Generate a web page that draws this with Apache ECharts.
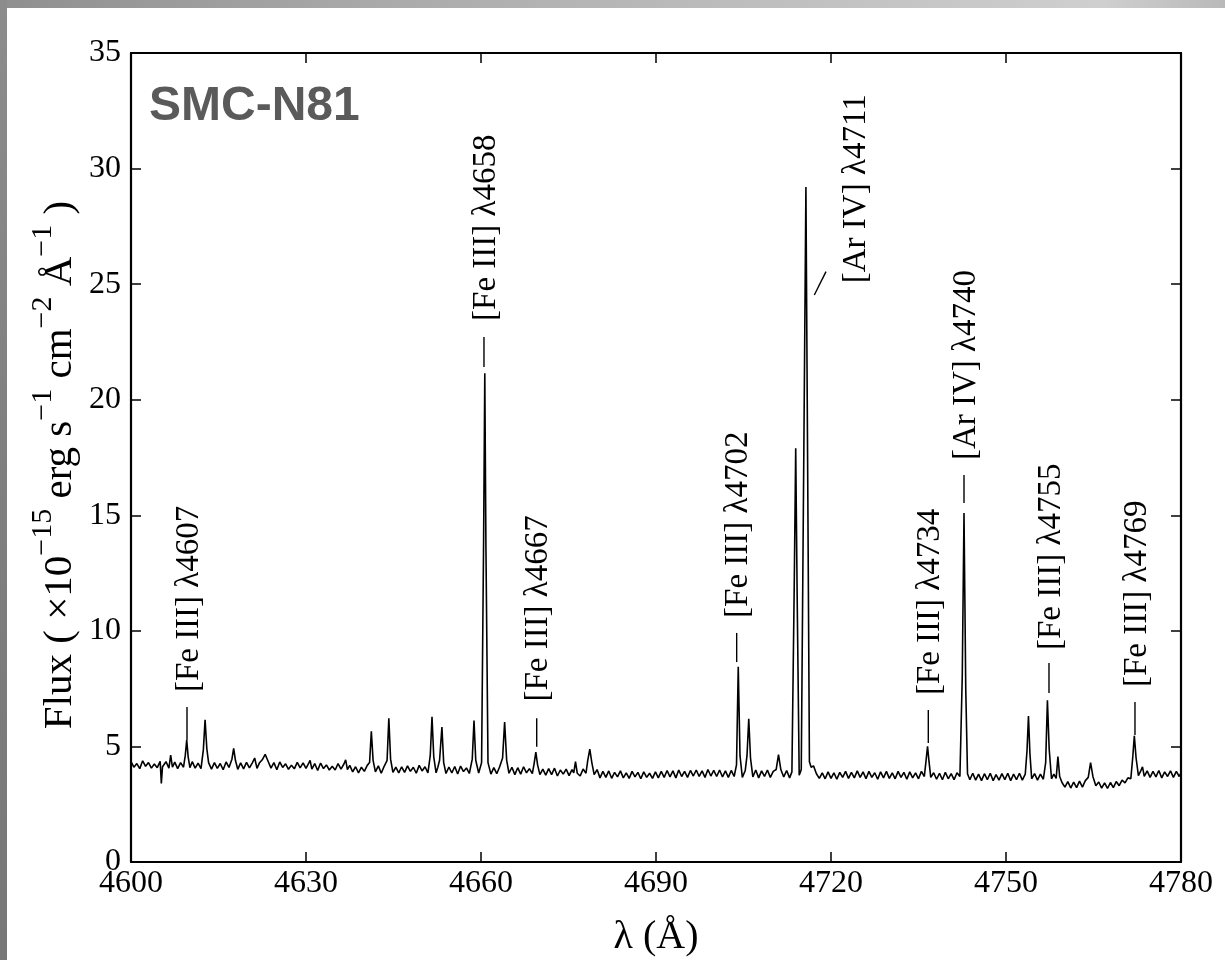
<!DOCTYPE html>
<html><head><meta charset="utf-8">
<script src="https://cdn.jsdelivr.net/npm/echarts@6/dist/echarts.min.js"></script>
<style>html,body{margin:0;padding:0;background:#fff}#c{width:1225px;height:960px}</style>
</head><body><div id="c"></div>
<script>
// ---------- data ----------
const xTicks = [4600, 4630, 4660, 4690, 4720, 4750, 4780];
const yTicks = [0, 5, 10, 15, 20, 25, 30, 35];
const objectName = 'SMC-N81';

// spectrum: [wavelength (Å), flux (1e-15 erg s-1 cm-2 Å-1)]
const spectrum = [
[4600.0,4.34],[4600.5,4.10],[4601.0,4.26],[4601.5,4.04],[4602.0,4.38],[4602.5,4.14],[4603.0,4.30],[4603.5,4.06],[4604.0,4.24],[4604.5,4.08],
[4605.0,4.36],[4605.2,3.40],[4605.4,4.12],[4606.0,4.34],[4606.5,4.06],[4606.8,4.62],[4607.1,4.10],[4607.5,4.32],[4608.0,4.04],[4608.5,4.30],
[4609.0,4.10],[4609.3,4.60],[4609.55,5.28],[4609.8,4.55],[4610.1,4.08],[4610.5,4.34],[4611.0,4.06],[4611.5,4.28],[4612.0,4.04],[4612.4,4.85],
[4612.7,6.15],[4613.0,4.90],[4613.3,4.30],
[4613.8,4.02],[4614.3,4.30],[4614.8,4.05],[4615.3,4.26],[4615.8,3.99],[4616.3,4.33],[4616.8,4.09],[4617.3,4.45],[4617.6,4.92],[4617.9,4.40],
[4618.3,4.01],[4618.8,4.29],[4619.3,4.03],[4619.8,4.31],[4620.3,4.07],[4620.8,4.29],[4621.2,4.50],[4621.6,4.05],[4622.0,4.28],[4622.5,4.42],
[4623.0,4.66],[4623.5,4.36],[4624.0,4.06],[4624.5,4.30],[4625.0,3.99],[4625.5,4.33],[4626.0,4.09],[4626.5,4.25],[4627.0,4.01],[4627.5,4.19],
[4628.0,4.03],[4628.5,4.31],[4629.0,4.07],[4629.5,4.29],[4630.0,4.05],
[4630.4,4.24],[4630.7,4.40],[4631.0,4.02],[4631.5,4.26],[4632.0,3.96],[4632.5,4.28],[4633.0,4.04],[4633.5,4.20],[4634.0,3.98],[4634.5,4.14],
[4635.0,3.98],[4635.5,4.26],[4636.0,4.02],[4636.5,4.24],[4636.8,4.42],[4637.1,4.00],[4637.5,4.18],[4638.0,3.90],[4638.5,4.12],[4639.0,3.86],
[4639.5,4.10],[4640.0,3.92],[4640.5,4.18],[4640.9,4.30],[4641.2,5.66],[4641.5,4.40],
[4641.9,3.90],[4642.4,4.16],[4642.9,3.84],[4643.4,4.14],[4643.9,4.40],[4644.2,6.22],[4644.5,4.45],[4644.9,3.88],[4645.4,4.10],[4645.9,3.86],
[4646.4,4.12],[4646.9,3.88],[4647.4,4.16],[4647.9,3.92],[4648.4,4.10],[4648.9,3.84],[4649.4,4.18],[4649.9,3.94],[4650.4,4.12],[4650.9,3.86],
[4651.3,4.60],[4651.6,6.28],[4651.9,4.55],[4652.3,3.86],[4652.6,4.10],[4652.9,4.40],[4653.3,5.84],[4653.6,4.30],
[4654.0,3.83],[4654.5,4.11],[4655.0,3.85],[4655.5,4.13],[4656.0,3.81],[4656.5,4.15],[4657.0,3.91],[4657.5,4.07],[4658.0,3.83],[4658.5,4.45],
[4658.8,6.12],[4659.1,4.40],[4659.6,3.85],[4660.1,4.30],[4660.45,14.0],[4660.65,21.15],[4660.85,13.5],[4661.2,4.30],
[4661.7,3.80],[4662.2,4.08],[4662.7,3.82],[4663.2,4.12],[4663.7,4.50],[4664.05,6.05],[4664.4,4.40],[4664.8,3.84],[4665.3,4.10],[4665.8,3.78],
[4666.3,4.08],[4666.8,3.80],[4667.3,4.12],[4667.8,3.86],[4668.3,4.04],[4668.8,3.82],[4669.1,4.25],[4669.4,4.75],[4669.7,4.20],[4670.1,3.78],
[4670.6,4.02],[4671.1,3.76],[4671.6,4.04],[4672.1,3.78],[4672.6,4.06],[4673.1,3.72],[4673.6,3.98],[4674.1,3.80],[4674.6,4.02],[4675.1,3.74],
[4675.6,4.00],[4675.9,3.86],[4676.2,4.34],[4676.5,3.84],[4677.0,3.72],[4677.5,4.02],[4678.0,3.84],[4678.3,4.40],[4678.65,4.88],[4679.0,4.30],
[4679.4,3.78],[4679.9,4.00],
[4680.4,3.64],[4680.9,3.92],[4681.4,3.66],[4681.9,3.94],[4682.4,3.62],[4682.9,3.88],[4683.4,3.68],[4683.9,3.94],[4684.4,3.64],[4684.9,3.86],
[4685.4,3.62],[4685.9,3.92],[4686.4,3.68],[4686.9,3.88],[4687.4,3.60],[4687.9,3.90],[4688.4,3.66],[4688.9,3.84],[4689.4,3.62],[4689.9,3.90],
[4690.4,3.64],[4690.9,3.92],[4691.4,3.66],[4691.9,3.96],[4692.4,3.68],[4692.9,3.94],[4693.4,3.64],[4693.9,3.98],[4694.4,3.70],[4694.9,3.92],
[4695.4,3.66],[4695.9,3.96],[4696.4,3.72],[4696.9,3.98],[4697.4,3.70],[4697.9,3.94],[4698.4,3.66],[4698.9,4.00],[4699.4,3.72],[4699.9,3.96],
[4700.4,3.70],[4700.9,3.98],[4701.4,3.68],[4701.9,3.94],[4702.4,3.66],[4702.9,3.96],[4703.4,3.70],[4703.8,4.20],[4704.1,8.45],[4704.4,4.60],
[4704.8,3.66],[4705.3,3.96],[4705.6,4.60],[4705.9,6.20],[4706.2,4.50],[4706.6,3.68],[4707.1,3.98],[4707.6,3.64],[4708.1,3.94],[4708.6,3.70],
[4709.1,3.98],[4709.6,3.66],[4710.1,3.92],[4710.6,4.00],[4711.0,4.65],[4711.4,4.00],[4711.9,3.68],[4712.4,3.96],[4712.9,3.64],[4713.3,3.90],
[4713.7,12.0],[4713.95,17.9],[4714.2,11.5],[4714.55,3.75],[4714.9,4.00],[4715.35,18.0],[4715.7,29.2],[4716.0,17.0],[4716.3,4.34],[4716.6,4.10],
[4717.0,4.16],[4717.5,3.82],
[4718.0,3.62],[4718.5,3.86],[4719.0,3.60],[4719.5,3.90],[4720.0,3.62],[4720.5,3.86],[4721.0,3.58],[4721.5,3.88],[4722.0,3.66],[4722.5,3.92],
[4723.0,3.62],[4723.5,3.88],[4724.0,3.64],[4724.5,3.94],[4725.0,3.66],[4725.5,3.90],[4726.0,3.60],[4726.5,3.92],[4727.0,3.66],[4727.5,3.86],
[4728.0,3.58],[4728.5,3.90],[4729.0,3.64],[4729.5,3.92],[4730.0,3.62],[4730.5,3.86],[4731.0,3.60],[4731.5,3.92],[4732.0,3.66],[4732.5,3.88],
[4733.0,3.58],[4733.5,3.90],[4734.0,3.64],[4734.5,3.86],[4735.0,3.60],[4735.5,3.92],[4736.0,3.70],[4736.3,4.40],[4736.55,5.00],[4736.8,4.35],
[4737.1,3.66],
[4737.6,3.86],[4738.1,3.58],[4738.6,3.84],[4739.1,3.56],[4739.6,3.88],[4740.1,3.60],[4740.6,3.82],[4741.1,3.56],[4741.6,3.86],[4742.1,3.70],
[4742.5,8.0],[4742.8,15.1],[4743.1,7.5],[4743.4,3.82],
[4743.8,3.56],[4744.3,3.84],[4744.8,3.54],[4745.3,3.80],[4745.8,3.52],[4746.3,3.82],[4746.8,3.56],[4747.3,3.84],[4747.8,3.52],[4748.3,3.78],
[4748.8,3.54],[4749.3,3.82],[4749.8,3.56],[4750.3,3.84],[4750.8,3.52],[4751.3,3.80],[4751.8,3.56],[4752.3,3.84],[4752.8,3.54],[4753.3,3.80],
[4753.6,4.80],[4753.85,6.32],[4754.1,4.70],[4754.4,3.60],[4754.9,3.82],[4755.4,3.54],[4755.9,3.80],[4756.4,3.58],[4756.8,4.30],[4757.1,7.00],
[4757.4,4.90],[4757.8,3.60],[4758.2,3.80],[4758.6,3.62],[4758.9,4.56],[4759.2,3.70],[4759.6,3.44],
[4760.1,3.24],[4760.6,3.48],[4761.1,3.20],[4761.6,3.46],[4762.1,3.22],[4762.6,3.50],[4763.1,3.24],[4763.6,3.52],[4764.1,3.66],[4764.5,4.30],
[4764.9,3.70],[4765.4,3.30],[4765.9,3.46],[4766.4,3.20],[4766.9,3.42],[4767.4,3.18],[4767.9,3.44],[4768.4,3.22],[4768.9,3.48],[4769.4,3.30],
[4769.9,3.54],[4770.4,3.42],[4770.9,3.64],[4771.4,3.60],[4771.75,4.60],[4772.0,5.46],[4772.3,4.50],[4772.7,3.74],[4773.1,3.94],[4773.4,4.12],
[4773.7,3.70],
[4774.2,3.94],[4774.7,3.66],[4775.2,3.92],[4775.7,3.68],[4776.2,3.96],[4776.7,3.64],[4777.2,3.90],[4777.7,3.70],[4778.2,3.94],[4778.7,3.66],
[4779.2,3.92],[4779.7,3.70],[4780.0,3.86]
];

// line identifications
const annoLabels = ['[Fe III] λ4607','[Fe III] λ4658','[Fe III] λ4667','[Fe III] λ4702','[Ar IV] λ4711','[Fe III] λ4734','[Ar IV] λ4740','[Fe III] λ4755','[Fe III] λ4769'];
const annoLineX0 = [4609.6, 4660.51, 4669.55, 4703.83, 4717.14, 4736.68, 4742.8, 4757.37, 4772.11];
const annoLineY0 = [5.28, 21.42, 4.99, 8.65, 24.53, 5.15, 15.53, 7.31, 5.49];
const annoLineX1 = [4609.6, 4660.51, 4669.55, 4703.83, 4719.14, 4736.68, 4742.8, 4757.37, 4772.11];
const annoLineY1 = [6.71, 22.71, 6.22, 9.91, 25.54, 6.58, 16.74, 8.61, 6.92];
const annoTextX  = [4609.6, 4660.51, 4669.55, 4703.83, 4723.94, 4736.68, 4742.8, 4757.37, 4772.11];
const annoTextY  = [7.35, 23.41, 6.94, 10.56, 25.04, 7.22, 17.39, 9.17, 7.57];

// ---------- chart ----------
const SERIF = '"Liberation Serif", "DejaVu Serif", serif';
const chart = echarts.init(document.getElementById('c'), null, {renderer: 'canvas'});

const axisLineStyle = {show: true, onZero: false, lineStyle: {color: '#000', width: 2.2}};
const tickStyle = {color: '#000', width: 1.5};
const plain = v => String(v);

chart.setOption({
  animation: false,
  backgroundColor: '#ffffff',
  grid: {left: 131, right: 44, top: 53, bottom: 98, containLabel: false, outerBoundsMode: 'none'},
  xAxis: [
    {type: 'value', min: 4600, max: 4780, position: 'bottom',
     axisLine: axisLineStyle,
     axisTick: {show: true, inside: true, length: 10, lineStyle: tickStyle, customValues: xTicks},
     axisLabel: {show: true, customValues: xTicks, formatter: plain, fontFamily: SERIF, fontSize: 32, color: '#000', margin: 6},
     splitLine: {show: false},
     name: 'λ (Å)', nameLocation: 'middle', nameGap: 55,
     nameTextStyle: {fontFamily: SERIF, fontSize: 40, color: '#000'}},
    {type: 'value', min: 4600, max: 4780, position: 'top',
     axisLine: axisLineStyle,
     axisTick: {show: true, inside: true, length: 10, lineStyle: tickStyle, customValues: xTicks},
     axisLabel: {show: false, customValues: xTicks},
     splitLine: {show: false}}
  ],
  yAxis: [
    {type: 'value', min: 0, max: 35, interval: 5, position: 'left',
     axisLine: axisLineStyle,
     axisTick: {show: true, inside: true, length: 10, lineStyle: tickStyle, customValues: yTicks},
     axisLabel: {show: true, customValues: yTicks, formatter: plain, fontFamily: SERIF, fontSize: 32, color: '#000', margin: 10},
     splitLine: {show: false}},
    {type: 'value', min: 0, max: 35, interval: 5, position: 'right',
     axisLine: axisLineStyle,
     axisTick: {show: true, inside: true, length: 10, lineStyle: tickStyle, customValues: yTicks},
     axisLabel: {show: false},
     splitLine: {show: false}}
  ],
  series: [{
    type: 'line', xAxisIndex: 0, yAxisIndex: 0, data: spectrum,
    showSymbol: false, symbol: 'none', clip: true,
    lineStyle: {color: '#000', width: 1.6},
    emphasis: {disabled: true}
  }]
});

function px(x, y) { return chart.convertToPixel({gridIndex: 0}, [x, y]); }

const g = [];
// textured border strips of the surrounding picture
g.push({type: 'rect', shape: {x: 0, y: 0, width: 1225, height: 8}, silent: true,
  style: {fill: new echarts.graphic.LinearGradient(0, 0, 1, 0, [
    {offset: 0, color: '#8f8f8f'}, {offset: 0.3, color: '#a9a9a9'}, {offset: 0.6, color: '#bdbdbd'},
    {offset: 0.9, color: '#cfcfcf'}, {offset: 1, color: '#b9b9b9'}])}});
g.push({type: 'rect', shape: {x: 0, y: 0, width: 7, height: 960}, silent: true,
  style: {fill: new echarts.graphic.LinearGradient(0, 0, 0, 1, [
    {offset: 0, color: '#8c8c8c'}, {offset: 0.5, color: '#7f7f7f'}, {offset: 1, color: '#777777'}])}});

// object name
g.push({type: 'text', x: 149, y: 107, silent: true,
  style: {text: objectName, font: 'bold 48px "Liberation Sans", Arial, sans-serif', fill: '#5a5a5a',
          align: 'left', verticalAlign: 'middle'}});

// y axis title (rotated, with superscripts)
g.push({type: 'text', x: 60, y: 465, rotation: Math.PI / 2, silent: true,
  style: {
    text: '{n|Flux ( ×10}{s|−15}{n| erg s}{s|−1}{n| cm}{s|−2}{n| Å}{s|−1}{n| )}',
    align: 'center', verticalAlign: 'middle',
    rich: {
      n: {fontFamily: SERIF, fontSize: 41, fill: '#000'},
      s: {fontFamily: SERIF, fontSize: 30, fill: '#000', padding: [0, 0, 34, 0]}
    }
  }});

// line identifications
for (let i = 0; i < annoLabels.length; i++) {
  const p0 = px(annoLineX0[i], annoLineY0[i]);
  const p1 = px(annoLineX1[i], annoLineY1[i]);
  const pt = px(annoTextX[i], annoTextY[i]);
  g.push({type: 'line', silent: true,
    shape: {x1: p0[0], y1: p0[1], x2: p1[0], y2: p1[1]},
    style: {stroke: '#000', lineWidth: 1.4}});
  g.push({type: 'text', x: pt[0] + 2, y: pt[1], rotation: Math.PI / 2, silent: true,
    style: {text: annoLabels[i], fontFamily: SERIF, fontSize: 33, fill: '#000',
            align: 'left', verticalAlign: 'middle'}});
}

chart.setOption({graphic: {elements: g}});
</script>
</body></html>
